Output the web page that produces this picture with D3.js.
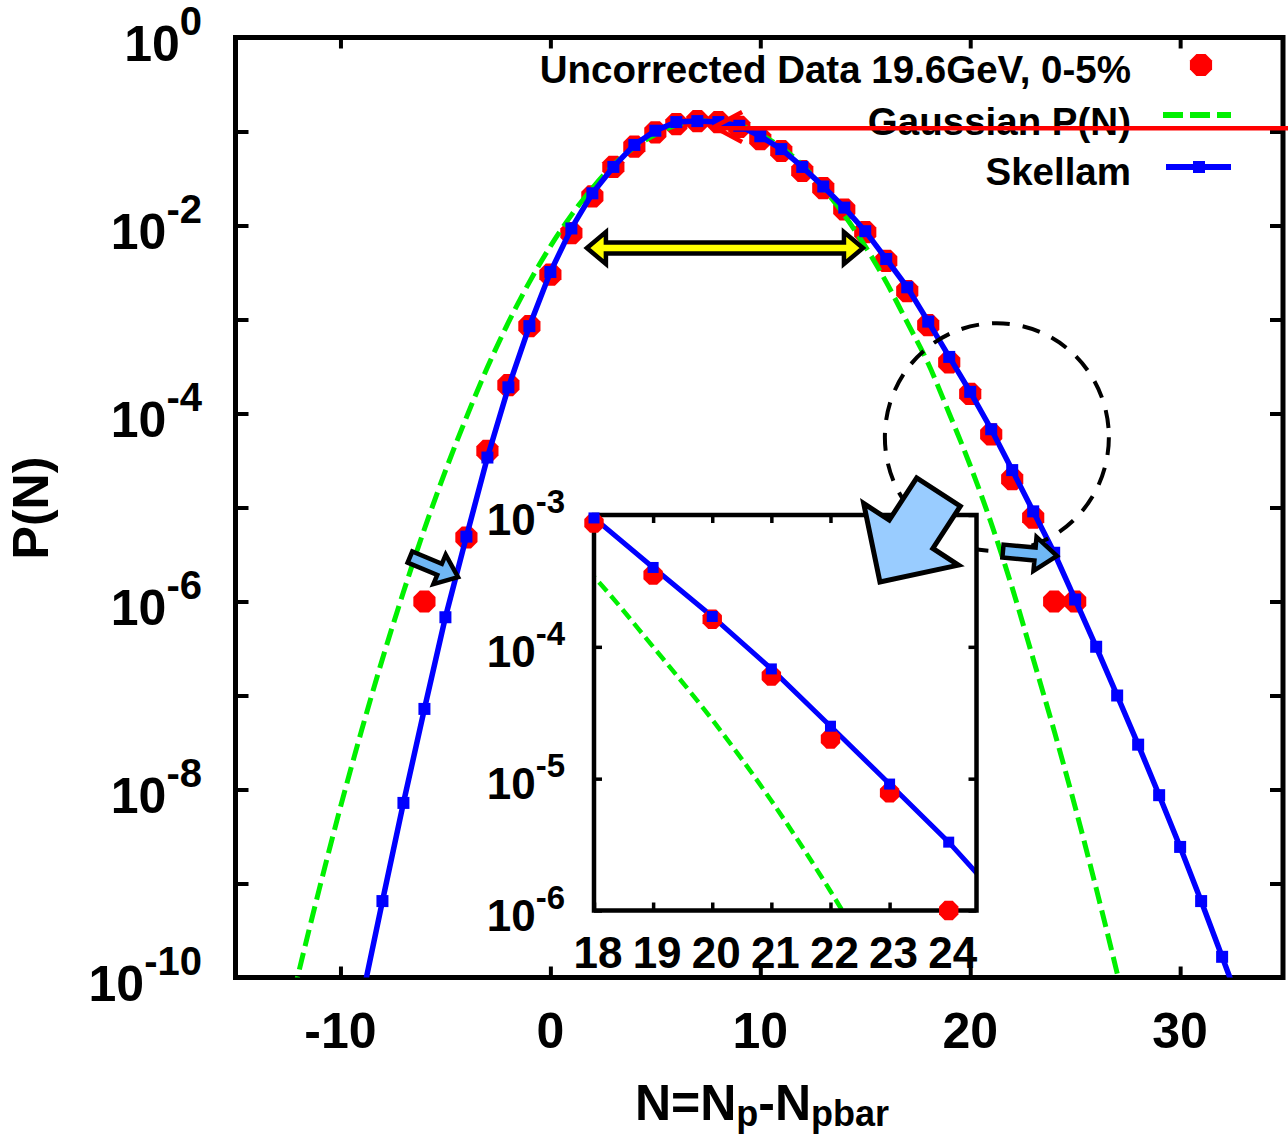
<!DOCTYPE html>
<html>
<head>
<meta charset="utf-8">
<script src="https://cdn.jsdelivr.net/npm/d3@7"></script>
<style>
  html, body { margin: 0; padding: 0; background: #fff; }
  svg { display: block; font-family: "Liberation Sans", Arial, Helvetica, sans-serif; font-weight: bold; }
</style>
</head>
<body>
<svg id="chart" width="1288" height="1138"></svg>
<script>
// ---- measured net-proton distribution, N = Np - Npbar ----
const dataN = [-6, -4, -3, -2, -1, 0, 1, 2, 3, 4, 5, 6, 7, 8, 9, 10, 11, 12, 13, 14, 15, 16, 17, 18, 19, 20, 21, 22, 23, 24, 25];
const dataP = [1.0e-6, 4.8e-6, 4.0e-5, 2.0e-4, 8.5e-4, 3.0e-3, 8.3e-3, 2.04e-2, 4.2e-2, 6.9e-2, 9.8e-2, 0.120, 0.129, 0.126, 0.112,
               0.083, 0.062, 0.038, 0.025, 0.0148, 0.0085, 0.0042, 0.0020, 8.7e-4, 3.5e-4, 1.62e-4, 6.0e-5, 2.0e-5, 7.8e-6, 1.0e-6, 1.0e-6];

// ---- Skellam expectation ----
const skellamN = [-9, -8, -7, -6, -5, -4, -3, -2, -1, 0, 1, 2, 3, 4, 5, 6, 7, 8, 9, 10, 11, 12, 13, 14, 15, 16, 17, 18, 19, 20,
                  21, 22, 23, 24, 25, 26, 27, 28, 29, 30, 31, 32, 33];
const skellamP = [5.6e-11, 6.5e-10, 7.2e-9, 7.2e-8, 6.8e-7, 4.9e-6, 3.4e-5, 1.9e-4, 8.5e-4, 3.2e-3, 9.3e-3, 2.2e-2, 4.2e-2, 7.2e-2,
                  0.102, 0.126, 0.129, 0.126, 0.115, 0.089, 0.065, 0.042, 0.026, 0.0155, 0.0087, 0.0044, 0.0022, 9.5e-4, 4.0e-4,
                  1.7e-4, 6.8e-5, 2.5e-5, 9.1e-6, 3.3e-6, 1.05e-6, 3.3e-7, 1.0e-7, 3.0e-8, 8.7e-9, 2.45e-9, 6.5e-10, 1.66e-10, 4.2e-11];

// ---- Gaussian P(N) ----
const gaussN = [-13, -12, -11, -10, -9, -8, -7, -6, -5, -4, -3, -2, -1, 0, 1, 2, 3, 4, 5, 6, 7, 8, 9, 10, 11, 12, 13, 14,
                15, 16, 17, 18, 19, 20, 21, 22, 23, 24, 25, 26, 27, 28];
const gaussP = [1.23e-11, 1.11e-10, 8.9e-10, 6.5e-9, 4.2e-8, 2.45e-7, 1.26e-6, 5.9e-6, 2.45e-5, 9.1e-5, 3.1e-4, 9.3e-4, 2.5e-3,
                6.0e-3, 1.29e-2, 2.5e-2, 4.4e-2, 6.8e-2, 9.3e-2, 0.117, 0.129, 0.129, 0.117, 9.3e-2, 6.8e-2, 4.4e-2, 2.5e-2,
                1.29e-2, 6.0e-3, 2.5e-3, 9.3e-4, 3.4e-4, 1.0e-4, 2.8e-5, 6.8e-6, 1.4e-6, 2.45e-7, 4.2e-8, 6.5e-9, 8.9e-10,
                1.11e-10, 1.23e-11];

// ---- axis ticks ----
const xTicks = [-10, 0, 10, 20, 30];
const yTickExp = [0, -1, -2, -3, -4, -5, -6, -7, -8, -9, -10];
const yLabelExp = [0, -2, -4, -6, -8, -10];
const insetXTicks = [18, 19, 20, 21, 22, 23, 24];
const insetYExp = [-3, -4, -5, -6];

const legendLabels = ["Uncorrected Data 19.6GeV, 0-5%", "Gaussian P(N)", "Skellam"];

const RED = "#ff0000", BLUE = "#0000ff", GREEN = "#00f000";

const svg = d3.select("#chart");
const zip = (a, b) => a.map((v, i) => [v, b[i]]);
const data = zip(dataN, dataP);
const skellam = zip(skellamN, skellamP);
const gauss = zip(gaussN, gaussP);

// main panel scales
const x = d3.scaleLinear().domain([-15, 34.9]).range([235.5, 1283]);
const y = d3.scaleLog().domain([1e-10, 1]).range([977.5, 37.5]);

// octagon marker path
function octagon(r) {
  const pts = d3.range(8).map(k => {
    const a = Math.PI / 8 + k * Math.PI / 4;
    return [r * Math.cos(a), r * Math.sin(a)];
  });
  return "M" + pts.map(p => p.join(",")).join("L") + "Z";
}

// block arrow polygon from tail to tip
function blockArrow(t, h, shaftW, headW, headL) {
  const dx = h[0] - t[0], dy = h[1] - t[1];
  const len = Math.hypot(dx, dy);
  const ux = dx / len, uy = dy / len, px = -uy, py = ux;
  const b = [h[0] - ux * headL, h[1] - uy * headL];
  const P = (c, s) => [c[0] + px * s, c[1] + py * s];
  return [P(t, shaftW / 2), P(b, shaftW / 2), P(b, headW / 2), h, P(b, -headW / 2), P(b, -shaftW / 2), P(t, -shaftW / 2)];
}
function doubleArrow(a, b, shaftW, headW, headL) {
  const dx = b[0] - a[0], dy = b[1] - a[1];
  const len = Math.hypot(dx, dy);
  const ux = dx / len, uy = dy / len, px = -uy, py = ux;
  const ba = [a[0] + ux * headL, a[1] + uy * headL];
  const bb = [b[0] - ux * headL, b[1] - uy * headL];
  const P = (c, s) => [c[0] + px * s, c[1] + py * s];
  return [a, P(ba, headW / 2), P(ba, shaftW / 2), P(bb, shaftW / 2), P(bb, headW / 2), b,
          P(bb, -headW / 2), P(bb, -shaftW / 2), P(ba, -shaftW / 2), P(ba, -headW / 2)];
}

const defs = svg.append("defs");
defs.append("clipPath").attr("id", "mainClip").append("rect")
  .attr("x", 235.5).attr("y", 37.5).attr("width", 1283 - 235.5).attr("height", 977.5 - 37.5);

// ---- main axes (inward ticks on all four sides) ----
function styleAxis(g) {
  g.select(".domain").remove();
  g.selectAll(".tick line").attr("stroke", "#000").attr("stroke-width", 4);
}
const decades = yTickExp.map(e => Math.pow(10, e));
svg.append("g").attr("transform", "translate(235.5,0)")
  .call(d3.axisLeft(y).tickValues(decades).tickSize(-13).tickFormat("")).call(styleAxis);
svg.append("g").attr("transform", "translate(1283,0)")
  .call(d3.axisRight(y).tickValues(decades).tickSize(-13).tickFormat("")).call(styleAxis);
svg.append("g").attr("transform", "translate(0,977.5)")
  .call(d3.axisBottom(x).tickValues(xTicks).tickSize(-11).tickFormat("")).call(styleAxis);
svg.append("g").attr("transform", "translate(0,37.5)")
  .call(d3.axisTop(x).tickValues(xTicks).tickSize(-11).tickFormat("")).call(styleAxis);

svg.append("rect").attr("x", 235.5).attr("y", 37.5).attr("width", 1283 - 235.5).attr("height", 977.5 - 37.5)
  .attr("fill", "none").attr("stroke", "#000").attr("stroke-width", 5);

// y tick labels: 10^e
const yl = svg.append("g").selectAll("text").data(yLabelExp).join("text")
  .attr("x", 202).attr("y", e => y(Math.pow(10, e)) + 23)
  .attr("text-anchor", "end").attr("font-size", 50).attr("fill", "#000");
yl.append("tspan").text("10");
yl.append("tspan").attr("dy", -26).attr("font-size", 40).text(e => e === 0 ? "0" : "-" + Math.abs(e));

// x tick labels
svg.append("g").selectAll("text").data(xTicks).join("text")
  .attr("x", d => x(d)).attr("y", 1048).attr("text-anchor", "middle")
  .attr("font-size", 50).attr("fill", "#000").text(d => d);

// axis titles
const xt = svg.append("text").attr("x", 762).attr("y", 1120).attr("text-anchor", "middle")
  .attr("font-size", 50).attr("fill", "#000");
xt.append("tspan").text("N=N");
xt.append("tspan").attr("dy", 6).attr("font-size", 36).text("p");
xt.append("tspan").attr("dy", -6).text("-N");
xt.append("tspan").attr("dy", 6).attr("font-size", 36).text("pbar");

svg.append("text").attr("transform", "translate(48,508) rotate(-90)")
  .attr("text-anchor", "middle").attr("font-size", 50).attr("fill", "#000").text("P(N)");

// ---- main curves ----
const plot = svg.append("g").attr("clip-path", "url(#mainClip)");
const inMain = d => d[0] >= -15 && d[0] <= 34.9 && d[1] >= 1e-10 && d[1] <= 1;

plot.append("g").selectAll("path").data(data.filter(inMain)).join("path")
  .attr("d", octagon(12)).attr("transform", d => `translate(${x(d[0])},${y(d[1])})`).attr("fill", RED);

plot.append("path").datum(gauss)
  .attr("d", d3.line().x(d => x(d[0])).y(d => y(d[1])).curve(d3.curveMonotoneX))
  .attr("fill", "none").attr("stroke", GREEN).attr("stroke-width", 5).attr("stroke-dasharray", "17,7");

plot.append("path").datum(skellam).attr("d", d3.line().x(d => x(d[0])).y(d => y(d[1])))
  .attr("fill", "none").attr("stroke", BLUE).attr("stroke-width", 5.5);
plot.append("g").selectAll("rect").data(skellam.filter(inMain)).join("rect")
  .attr("x", d => x(d[0]) - 6).attr("y", d => y(d[1]) - 6).attr("width", 12).attr("height", 12).attr("fill", BLUE);

// ---- legend ----
const legY = [83, 135, 185];
const lg = svg.append("g");
lg.selectAll("text").data(legendLabels).join("text")
  .attr("x", 1131).attr("y", (d, i) => legY[i]).attr("text-anchor", "end")
  .attr("font-size", 38.5).attr("fill", "#000").text(d => d);
lg.append("path").attr("d", octagon(12)).attr("transform", "translate(1201,65)").attr("fill", RED);
lg.append("line").attr("x1", 1163).attr("x2", 1231).attr("y1", 115).attr("y2", 115)
  .attr("stroke", GREEN).attr("stroke-width", 6).attr("stroke-dasharray", "20,7");
lg.append("line").attr("x1", 1166).attr("x2", 1231).attr("y1", 167).attr("y2", 167)
  .attr("stroke", BLUE).attr("stroke-width", 6);
lg.append("rect").attr("x", 1193).attr("y", 161).attr("width", 12).attr("height", 12).attr("fill", BLUE);

// ---- annotations ----
// width marker across the peak
const yw = y(5.76e-3);
svg.append("polygon").attr("points", doubleArrow([x(1.74), yw], [x(14.89), yw], 11, 32, 19).map(p => p.join(",")).join(" "))
  .attr("fill", "#ffff00").attr("stroke", "#000").attr("stroke-width", 4.5).attr("stroke-linejoin", "miter");

// red pointer to the maximum
const tip = [x(7.8), y(0.1117)];
svg.append("line").attr("x1", tip[0] + 2).attr("y1", y(0.108)).attr("x2", 1290).attr("y2", y(0.108))
  .attr("stroke", RED).attr("stroke-width", 4.5);
svg.append("path").attr("d", `M${tip[0] + 28},${tip[1] - 15}L${tip[0]},${tip[1]}L${tip[0] + 28},${tip[1] + 15}`)
  .attr("fill", "none").attr("stroke", RED).attr("stroke-width", 4.5);

// dashed circle around the tail region
svg.append("ellipse").attr("cx", x(21.27)).attr("cy", y(5.6e-5)).attr("rx", 112).attr("ry", 114)
  .attr("fill", "none").attr("stroke", "#000").attr("stroke-width", 4).attr("stroke-dasharray", "18,13");

// ---- inset: tail zoom N = 18..24 ----
const ix = d3.scaleLinear().domain([18, 24.47]).range([594, 976.5]);
const iy = d3.scaleLog().domain([1e-6, 1e-3]).range([910.5, 515]);
defs.append("clipPath").attr("id", "insetClip").append("rect")
  .attr("x", 594).attr("y", 515).attr("width", 976.5 - 594).attr("height", 910.5 - 515);

const inset = svg.append("g");
inset.append("rect").attr("x", 594).attr("y", 515).attr("width", 976.5 - 594).attr("height", 910.5 - 515).attr("fill", "#fff");

function styleInset(g) {
  g.select(".domain").remove();
  g.selectAll(".tick line").attr("stroke", "#000").attr("stroke-width", 3.5);
}
const iDec = insetYExp.map(e => Math.pow(10, e));
inset.append("g").attr("transform", "translate(594,0)")
  .call(d3.axisLeft(iy).tickValues(iDec).tickSize(-8).tickFormat("")).call(styleInset);
inset.append("g").attr("transform", "translate(976.5,0)")
  .call(d3.axisRight(iy).tickValues(iDec).tickSize(-8).tickFormat("")).call(styleInset);
inset.append("g").attr("transform", "translate(0,910.5)")
  .call(d3.axisBottom(ix).tickValues(insetXTicks).tickSize(-8).tickFormat("")).call(styleInset);
inset.append("g").attr("transform", "translate(0,515)")
  .call(d3.axisTop(ix).tickValues(insetXTicks).tickSize(-8).tickFormat("")).call(styleInset);

const iplot = inset.append("g").attr("clip-path", "url(#insetClip)");
const inInset = d => d[0] >= 17 && d[0] <= 26;
iplot.append("path").datum(gauss.filter(inInset))
  .attr("d", d3.line().x(d => ix(d[0])).y(d => iy(d[1])).curve(d3.curveMonotoneX))
  .attr("fill", "none").attr("stroke", GREEN).attr("stroke-width", 4.5).attr("stroke-dasharray", "12,6");
iplot.append("path").datum(skellam.filter(inInset))
  .attr("d", d3.line().x(d => ix(d[0])).y(d => iy(d[1])))
  .attr("fill", "none").attr("stroke", BLUE).attr("stroke-width", 5);

inset.append("rect").attr("x", 594).attr("y", 515).attr("width", 976.5 - 594).attr("height", 910.5 - 515)
  .attr("fill", "none").attr("stroke", "#000").attr("stroke-width", 4.5);

const inRangeI = d => d[0] >= 18 && d[0] <= 24.47;
inset.append("g").selectAll("path").data(data.filter(inRangeI)).join("path")
  .attr("d", octagon(10.5)).attr("transform", d => `translate(${ix(d[0])},${iy(d[1])})`).attr("fill", RED);
inset.append("g").selectAll("rect").data(skellam.filter(inRangeI)).join("rect")
  .attr("x", d => ix(d[0]) - 5.5).attr("y", d => iy(d[1]) - 5.5).attr("width", 11).attr("height", 11).attr("fill", BLUE);

const iyl = inset.append("g").selectAll("text").data(insetYExp).join("text")
  .attr("x", 565).attr("y", e => iy(Math.pow(10, e)) + 20)
  .attr("text-anchor", "end").attr("font-size", 44).attr("fill", "#000");
iyl.append("tspan").text("10");
iyl.append("tspan").attr("dy", -22).attr("font-size", 33).text(e => "-" + Math.abs(e));

inset.append("g").selectAll("text").data(insetXTicks).join("text")
  .attr("x", d => ix(d) + 4).attr("y", 968).attr("text-anchor", "middle")
  .attr("font-size", 44).attr("fill", "#000").text(d => d);

// ---- block arrows ----
const polyStr = pts => pts.map(p => p.join(",")).join(" ");
svg.append("polygon")
  .attr("points", polyStr(blockArrow([x(18.49), y(1.46e-5)], [x(15.70), y(1.61e-6)], 52, 113, 57)))
  .attr("fill", "#99ccff").attr("stroke", "#000").attr("stroke-width", 5).attr("stroke-linejoin", "miter");
svg.append("polygon")
  .attr("points", polyStr(blockArrow([x(-6.69), y(2.97e-6)], [x(-4.40), y(1.82e-6)], 12, 32, 20)))
  .attr("fill", "#6fb7f5").attr("stroke", "#000").attr("stroke-width", 4.5).attr("stroke-linejoin", "miter");
svg.append("polygon")
  .attr("points", polyStr(blockArrow([x(21.56), y(3.44e-6)], [x(24.13), y(3.05e-6)], 13, 34, 22)))
  .attr("fill", "#6fb7f5").attr("stroke", "#000").attr("stroke-width", 4.5).attr("stroke-linejoin", "miter");
</script>
</body>
</html>
